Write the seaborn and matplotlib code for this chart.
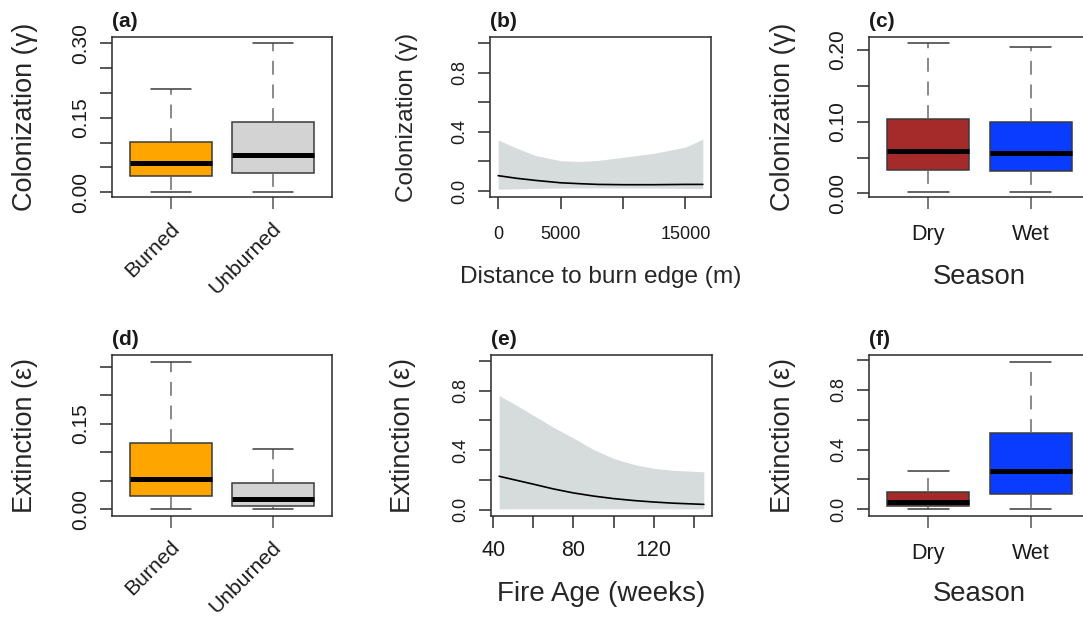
import numpy as np
import pandas as pd
import matplotlib
matplotlib.use("Agg")
import matplotlib.pyplot as plt
from matplotlib.transforms import ScaledTranslation
import seaborn as sns

# ---- data -------------------------------------------------------------
# Five-number summaries (min, Q1, median, Q3, max) of site-level estimates
fire_groups = ["Burned", "Unburned"]
season_groups = ["Dry", "Wet"]

col_burned = [0.001, 0.033, 0.058, 0.102, 0.208]
col_unburned = [0.001, 0.038, 0.0745, 0.142, 0.300]
col_dry = [0.0015, 0.032, 0.0585, 0.104, 0.2095]
col_wet = [0.0015, 0.031, 0.0566, 0.100, 0.2036]

ext_burned = [0.000, 0.024, 0.0532, 0.117, 0.259]
ext_unburned = [0.000, 0.0058, 0.0175, 0.0456, 0.105]
ext_dry = [0.000, 0.022, 0.051, 0.116, 0.259]
ext_wet = [0.000, 0.103, 0.255, 0.510, 0.990]

# Colonization vs distance to burn edge (fit and 95% band)
dist_m = [0, 1500, 3000, 5000, 6500, 8000, 10000, 12500, 15000, 16400]
dist_fit = [0.104, 0.086, 0.072, 0.056, 0.050, 0.045, 0.043, 0.043, 0.045, 0.045]
dist_lo = [0.012, 0.015, 0.018, 0.020, 0.021, 0.021, 0.021, 0.020, 0.018, 0.016]
dist_hi = [0.345, 0.289, 0.240, 0.205, 0.200, 0.207, 0.228, 0.255, 0.297, 0.350]

# Extinction vs fire age (fit and 95% band)
age_wk = [43, 50, 60, 70, 80, 90, 100, 110, 120, 130, 145]
age_fit = [0.225, 0.203, 0.172, 0.140, 0.113, 0.092, 0.075, 0.062, 0.052, 0.044, 0.036]
age_lo = [0.006, 0.006, 0.006, 0.006, 0.006, 0.006, 0.006, 0.006, 0.006, 0.006, 0.006]
age_hi = [0.767, 0.715, 0.635, 0.555, 0.482, 0.405, 0.345, 0.305, 0.278, 0.265, 0.255]

fire_colors = ["#FFA500", "#D3D3D3"]
season_colors = ["#A52A2A", "#0A3CFF"]
band_color = "#D6DCDC"

# ---- style ------------------------------------------------------------
sns.set_style("ticks")
plt.rcParams["font.family"] = ["Liberation Sans", "DejaVu Sans"]
plt.rcParams["lines.scale_dashes"] = False
plt.rcParams["axes.edgecolor"] = "#2a2a2a"
plt.rcParams["axes.linewidth"] = 1.1
plt.rcParams["text.color"] = "#1a1a1a"
plt.rcParams["xtick.color"] = "#2a2a2a"
plt.rcParams["ytick.color"] = "#2a2a2a"
plt.rcParams["xtick.labelcolor"] = "#1a1a1a"
plt.rcParams["ytick.labelcolor"] = "#1a1a1a"

W, H = 1083, 619
fig = plt.figure(figsize=(W / 100, H / 100), dpi=100)


def add_axes(left, top, right, bottom):
    return fig.add_axes([left / W, 1 - bottom / H, (right - left) / W, (bottom - top) / H])


def style_axis(ax, letter, ylabel, ylab_size, ytick_size, ylab_x):
    for s in ax.spines.values():
        s.set_visible(True)
    ax.tick_params(axis="both", direction="out", length=8.6, width=1.1)
    ax.tick_params(axis="y", labelsize=ytick_size, labelrotation=90, pad=7)
    for lbl in ax.get_yticklabels():
        lbl.set_va("center")
    ax.set_ylabel(ylabel, fontsize=ylab_size)
    ax.yaxis.set_label_coords(ylab_x, 0.5)
    ax.yaxis.label.set_va("center")
    ax.annotate(letter, xy=(0, 1), xycoords="axes fraction", xytext=(0, 11),
                textcoords="offset points", ha="left", va="center",
                fontsize=15, fontweight="bold")


def box_panel(ax, groups, series, colors):
    df = pd.DataFrame({"group": np.repeat(groups, [len(v) for v in series]),
                       "value": np.concatenate(series)})
    sns.boxplot(data=df, x="group", y="value", hue="group", order=groups,
                hue_order=groups, palette=colors, legend=False, whis=(0, 100),
                width=0.8, saturation=1, linecolor="#3a3a3a", linewidth=1.1,
                showfliers=False,
                whiskerprops=dict(color="#6a6a6a", linestyle=(0, (10, 7))),
                capprops=dict(color="#3a3a3a"),
                medianprops=dict(color="black", linewidth=3.6, solid_capstyle="butt"),
                ax=ax)
    ax.set_xlim(-0.58, 1.58)
    ax.set_xlabel("")
    ax.tick_params(axis="x", color="#555555")


def curve_panel(ax, x, fit, lo, hi):
    ax.fill_between(x, lo, hi, color=band_color, linewidth=0)
    sns.lineplot(x=x, y=fit, color="black", linewidth=1.2, ax=ax)


# ---- (a) colonization by fire status ----------------------------------
ax_a = add_axes(112, 37, 332, 197)
box_panel(ax_a, fire_groups, [col_burned, col_unburned], fire_colors)
ax_a.set_ylim(-0.0097, 0.3127)
ax_a.set_yticks([0, 0.05, 0.10, 0.15, 0.20, 0.25, 0.30])
ax_a.set_yticklabels(["0.00", "", "", "0.15", "", "", "0.30"])
style_axis(ax_a, "(a)", "Colonization (γ)", 19.5, 15, -0.395)

# ---- (b) colonization vs distance -------------------------------------
ax_b = add_axes(490, 37, 711, 197)
curve_panel(ax_b, dist_m, dist_fit, dist_lo, dist_hi)
ax_b.set_xlim(-656, 17056)
ax_b.set_ylim(-0.04, 1.04)
ax_b.set_xticks([0, 5000, 10000, 15000])
ax_b.set_xticklabels(["0", "5000", "", "15000"])
ax_b.set_yticks([0, 0.2, 0.4, 0.6, 0.8, 1.0])
ax_b.set_yticklabels(["0.0", "", "0.4", "", "0.8", ""])
style_axis(ax_b, "(b)", "Colonization (γ)", 17.6, 13, -0.376)
ax_b.tick_params(axis="x", labelsize=13, pad=12)
ax_b.set_xlabel("Distance to burn edge (m)", fontsize=17.6)
ax_b.xaxis.set_label_coords(0.5, -0.5)
ax_b.xaxis.label.set_va("center")

# ---- (c) colonization by season ---------------------------------------
ax_c = add_axes(869, 37, 1090, 197)
box_panel(ax_c, season_groups, [col_dry, col_wet], season_colors)
ax_c.set_ylim(-0.005, 0.218)
ax_c.set_yticks([0, 0.05, 0.10, 0.15, 0.20])
ax_c.set_yticklabels(["0.00", "", "0.10", "", "0.20"])
style_axis(ax_c, "(c)", "Colonization (γ)", 19.5, 15, -0.39)
ax_c.tick_params(axis="x", labelsize=15.5, pad=11)
ax_c.set_xlabel("Season", fontsize=19.8)
ax_c.xaxis.set_label_coords(0.5, -0.5)
ax_c.xaxis.label.set_va("center")

# ---- (d) extinction by fire status ------------------------------------
ax_d = add_axes(112, 355, 332, 515.7)
box_panel(ax_d, fire_groups, [ext_burned, ext_unburned], fire_colors)
ax_d.set_ylim(-0.011, 0.2705)
ax_d.set_yticks([0, 0.05, 0.10, 0.15, 0.20, 0.25])
ax_d.set_yticklabels(["0.00", "", "", "0.15", "", ""])
style_axis(ax_d, "(d)", "Extinction (ε)", 19.5, 15, -0.395)

# ---- (e) extinction vs fire age ---------------------------------------
ax_e = add_axes(491, 355, 712, 515.7)
curve_panel(ax_e, age_wk, age_fit, age_lo, age_hi)
ax_e.set_xlim(38.92, 149.08)
ax_e.set_ylim(-0.04, 1.04)
ax_e.set_xticks([40, 60, 80, 100, 120, 140])
ax_e.set_xticklabels(["40", "", "80", "", "120", ""])
ax_e.set_yticks([0, 0.2, 0.4, 0.6, 0.8, 1.0])
ax_e.set_yticklabels(["0.0", "", "0.4", "", "0.8", ""])
style_axis(ax_e, "(e)", "Extinction (ε)", 19.5, 13, -0.40)
ax_e.tick_params(axis="x", labelsize=15.5, pad=9)
ax_e.set_xlabel("Fire Age (weeks)", fontsize=20)
ax_e.xaxis.set_label_coords(0.5, -0.49)
ax_e.xaxis.label.set_va("center")

# ---- (f) extinction by season -----------------------------------------
ax_f = add_axes(869, 355, 1090, 515.7)
box_panel(ax_f, season_groups, [ext_dry, ext_wet], season_colors)
ax_f.set_ylim(-0.043, 1.034)
ax_f.set_yticks([0, 0.2, 0.4, 0.6, 0.8, 1.0])
ax_f.set_yticklabels(["0.0", "", "0.4", "", "0.8", ""])
style_axis(ax_f, "(f)", "Extinction (ε)", 19.5, 13, -0.39)
ax_f.tick_params(axis="x", labelsize=15.5, pad=11)
ax_f.set_xlabel("Season", fontsize=19.8)
ax_f.xaxis.set_label_coords(0.5, -0.49)
ax_f.xaxis.label.set_va("center")

# slanted category labels under the fire-status panels
for ax in (ax_a, ax_d):
    ax.tick_params(axis="x", labelsize=15.2, pad=12)
    for lbl in ax.get_xticklabels():
        lbl.set_rotation(45)
        lbl.set_ha("right")
        lbl.set_va("center")
        lbl.set_rotation_mode("anchor")
        lbl.set_transform(lbl.get_transform() + ScaledTranslation(5 / 100, 0, fig.dpi_scale_trans))

fig.savefig("out.png", dpi=100)
